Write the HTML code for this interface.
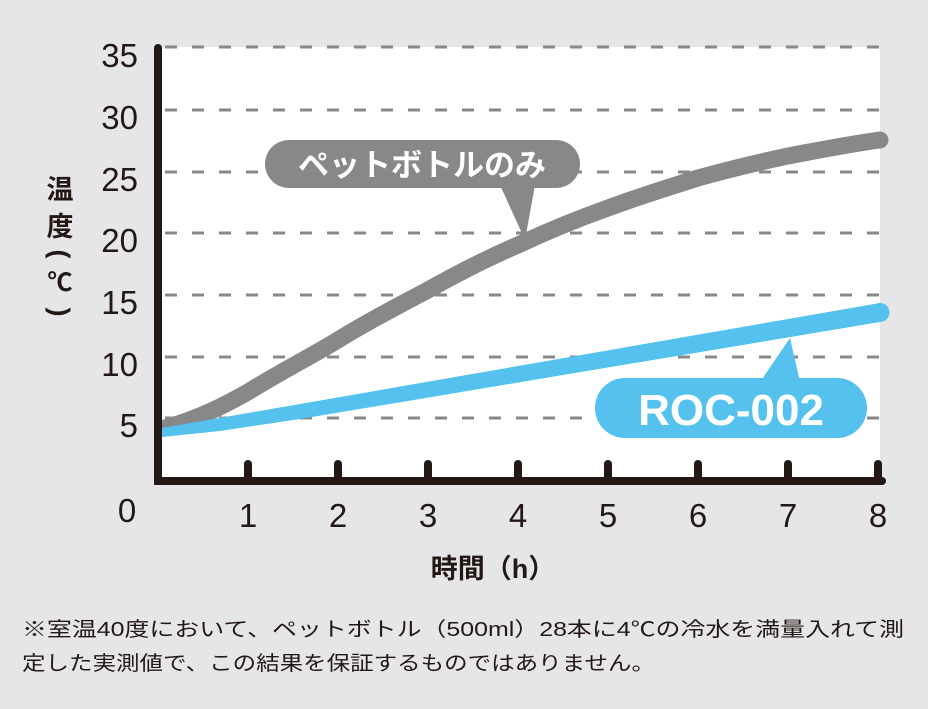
<!DOCTYPE html>
<html><head><meta charset="utf-8"><style>
body{margin:0;background:#e6e6e8;}
svg{display:block}
text{font-family:"Liberation Sans","Noto Sans CJK JP",sans-serif;}
</style></head><body>
<svg width="928" height="709" viewBox="0 0 928 709">
<rect width="928" height="709" fill="#e6e6e8"/>
<rect x="160" y="47" width="720" height="434" fill="#fff"/>
<g stroke="#888" stroke-width="3" stroke-dasharray="12,15">
<line x1="165" y1="47" x2="880" y2="47"/>
<line x1="165" y1="110" x2="880" y2="110"/>
<line x1="165" y1="172" x2="880" y2="172"/>
<line x1="165" y1="233" x2="880" y2="233"/>
<line x1="165" y1="295" x2="880" y2="295"/>
<line x1="165" y1="357" x2="880" y2="357"/>
<line x1="165" y1="418" x2="880" y2="418"/>
</g>
<path d="M165,428 C200,418 225,405 248,392 C280,372 310,357 338,340 C370,320 400,305 428,290 C460,272 490,257 518,245 C550,230 580,218 608,208 C640,196 670,187 698,178 C730,169 760,162 788,156 C820,150 850,144 880,140" fill="none" stroke="#888" stroke-width="17" stroke-linecap="round"/>
<polygon points="162,428 880,303 880,322 300,419 220,431 162,437" fill="#55c1ee"/>
<circle cx="880" cy="312.5" r="9.5" fill="#55c1ee"/>
<g stroke="#231815" stroke-width="8" stroke-linecap="round" fill="none">
<path d="M158,48 L158,481 L882,481"/>
<line x1="248" y1="464" x2="248" y2="481"/>
<line x1="338" y1="464" x2="338" y2="481"/>
<line x1="428" y1="464" x2="428" y2="481"/>
<line x1="518" y1="464" x2="518" y2="481"/>
<line x1="608" y1="464" x2="608" y2="481"/>
<line x1="698" y1="464" x2="698" y2="481"/>
<line x1="788" y1="464" x2="788" y2="481"/>
<line x1="878" y1="464" x2="878" y2="481"/>
</g>
<g fill="#231815" font-size="33" text-anchor="end">
<text x="138" y="67">35</text><text x="138" y="129">30</text><text x="138" y="191">25</text>
<text x="138" y="252">20</text><text x="138" y="314">15</text><text x="138" y="376">10</text>
<text x="138" y="437">5</text>
</g>
<g fill="#231815" font-size="33" text-anchor="middle">
<text x="127" y="522">0</text>
<text x="248" y="527">1</text><text x="338" y="527">2</text><text x="428" y="527">3</text><text x="518" y="527">4</text>
<text x="608" y="527">5</text><text x="698" y="527">6</text><text x="788" y="527">7</text><text x="878" y="527">8</text>
</g>
<g fill="#231815" font-size="27" font-weight="bold" text-anchor="middle">
<text x="60" y="199">温</text><text x="60" y="236">度</text>
<text x="0" y="0" transform="translate(60 254) rotate(90)" dominant-baseline="central">(</text>
<text x="60" y="291" font-size="25">℃</text>
<text x="0" y="0" transform="translate(60 312) rotate(90)" dominant-baseline="central">)</text>
<text x="493" y="578">時間（h）</text>
</g>
<path d="M500,185 L525,240 L535,185 Z" fill="#888"/>
<rect x="265" y="140" width="315" height="48" rx="24" fill="#888"/>
<text x="422" y="176" fill="#fff" font-size="31" font-weight="bold" text-anchor="middle">ペットボトルのみ</text>
<path d="M760,382 L790,338 L800,382 Z" fill="#55c1ee"/>
<rect x="595" y="378" width="272" height="60" rx="30" fill="#55c1ee"/>
<text x="731" y="425" fill="#fff" font-size="44" font-weight="bold" text-anchor="middle">ROC-002</text>
<g fill="#231815" font-size="20">
<text x="22" y="636" textLength="882" lengthAdjust="spacingAndGlyphs">※室温40度において、ペットボトル（500ml）28本に4℃の冷水を満量入れて測</text>
<text x="22" y="670" textLength="633" lengthAdjust="spacingAndGlyphs">定した実測値で、この結果を保証するものではありません。</text>
</g>
</svg>
</body></html>
